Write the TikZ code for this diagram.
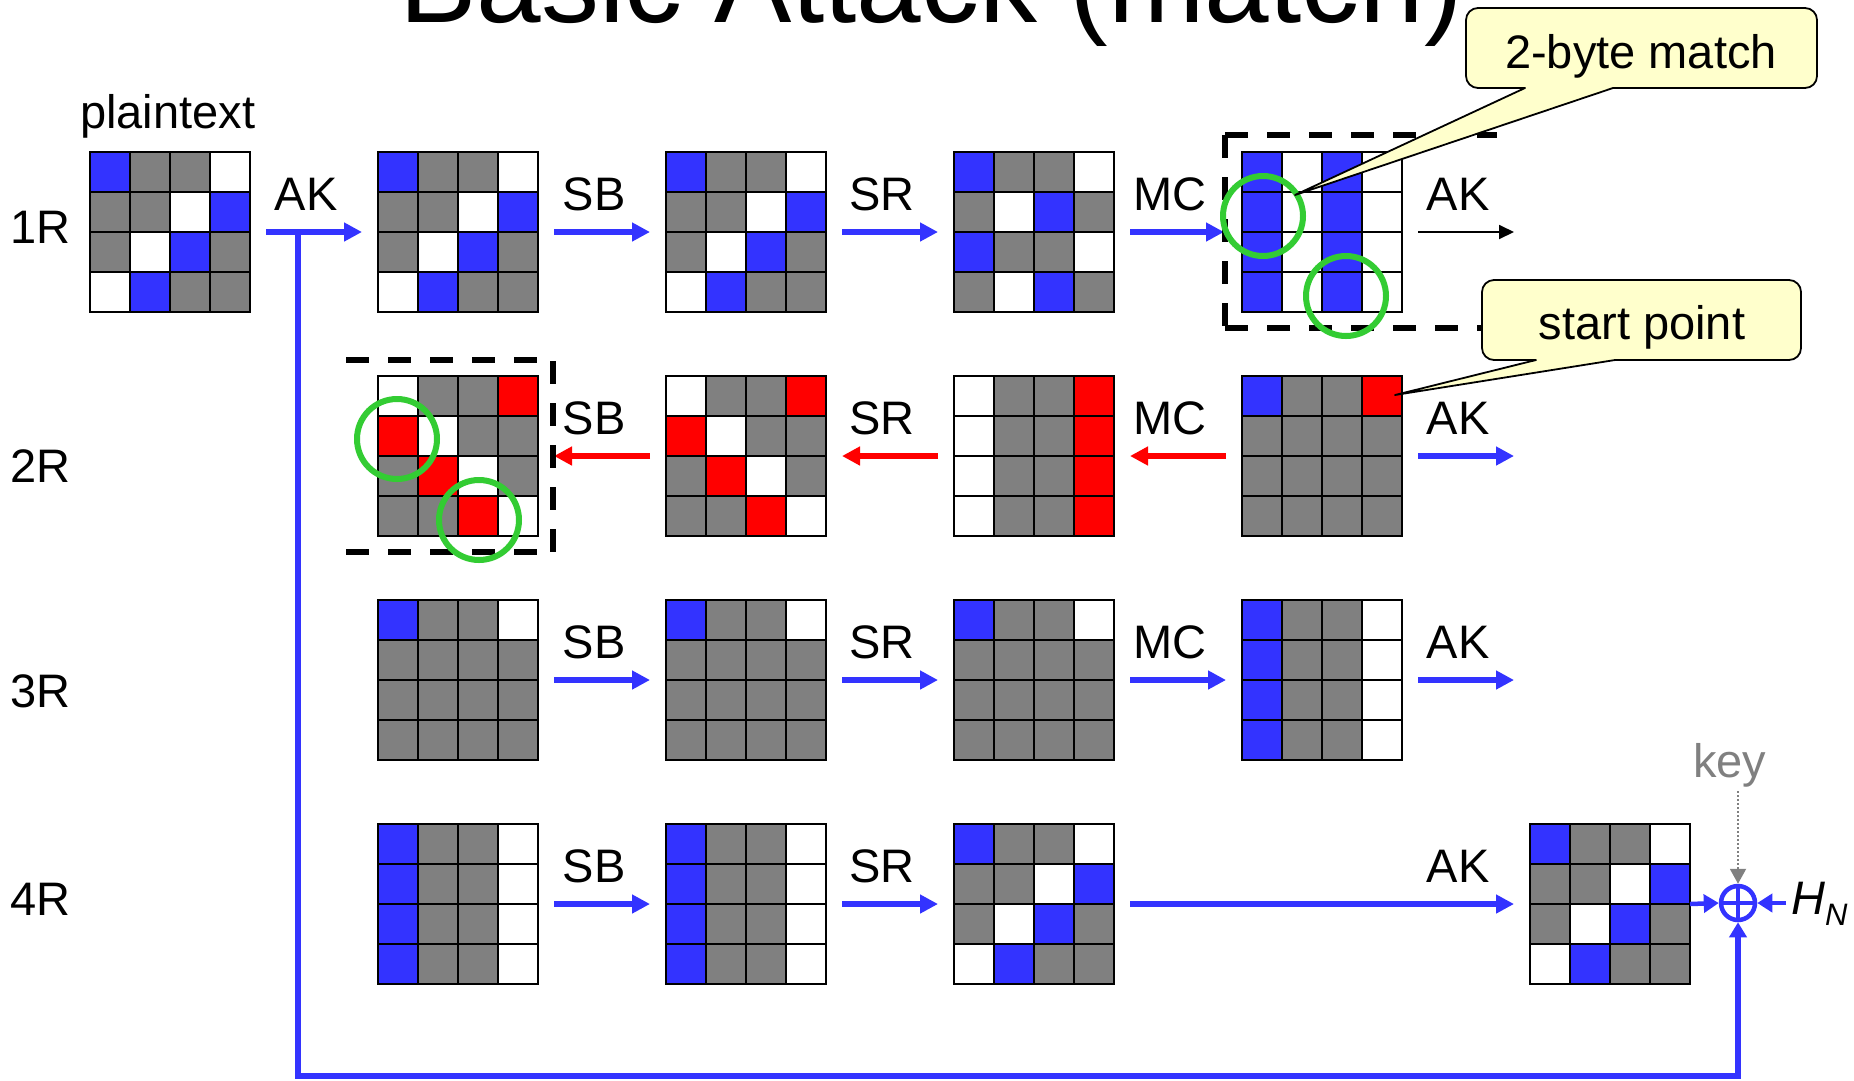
\documentclass[tikz,border=0pt]{standalone}
\usepackage{fontspec}
\setmainfont{Liberation Sans}
\usetikzlibrary{arrows.meta}
\definecolor{B}{HTML}{3333FF}
\definecolor{G}{HTML}{808080}
\definecolor{W}{HTML}{FFFFFF}
\definecolor{R}{HTML}{FF0000}
\definecolor{ringgreen}{HTML}{33CC33}
\definecolor{noteyellow}{HTML}{FFFFCC}
\tikzset{
  gridbox/.style={inner sep=0pt,outer sep=0pt,minimum size=160pt},
  lab/.style={inner sep=0pt,anchor=base,font=\fontsize{47}{56}\selectfont},
  rowlab/.style={inner sep=0pt,anchor=base west,font=\fontsize{47}{56}\selectfont},
  barrow/.style={draw=B,line width=6pt,-{Triangle[length=18pt,width=18pt]}},
  rarrow/.style={draw=R,line width=6pt,-{Triangle[length=18pt,width=18pt]}},
  karrow/.style={draw=black,line width=1.8pt,-{Triangle[length=15pt,width=14pt]}},
  xarrow/.style={draw=B,line width=4.5pt,-{Triangle[length=15pt,width=18pt]}},
  fbline/.style={draw=B,line width=5.5pt,-{Triangle[length=15pt,width=17pt]}},
  keyarrow/.style={draw=G,line width=2pt,dash pattern=on 2pt off 2pt,-{Triangle[length=15pt,width=16pt]}},
  boxdash/.style={line width=5.5pt,dash pattern=on 23pt off 19pt},
  ring/.style={circle,draw=ringgreen,line width=6pt,minimum size=80pt,inner sep=0pt},
  note/.style={draw=black,fill=noteyellow,line width=1.8pt,line join=round},
}
\def\pP{B,G,G,W,G,G,W,B,G,W,B,G,W,B,G,G}
\def\pS{B,G,G,W,G,W,B,G,B,G,G,W,G,W,B,G}
\def\pM{B,W,B,W,B,W,B,W,B,W,B,W,B,W,B,W}
\def\pD{W,G,G,R,R,W,G,G,G,R,W,G,G,G,R,W}
\def\pC{W,G,G,R,W,G,G,R,W,G,G,R,W,G,G,R}
\def\pT{B,G,G,R,G,G,G,G,G,G,G,G,G,G,G,G}
\def\pO{B,G,G,W,G,G,G,G,G,G,G,G,G,G,G,G}
\def\pL{B,G,G,W,B,G,G,W,B,G,G,W,B,G,G,W}
\newcommand\aesgrid[5][2.8pt]{%
  \node[gridbox] (#2) at (#3+80,#4+80) {};
  \foreach \cc [count=\ii from 0] in #5 {%
    \pgfmathtruncatemacro\rr{div(\ii,4)}%
    \pgfmathtruncatemacro\kk{mod(\ii,4)}%
    \fill[fill=\cc] (#3+\kk*40,#4+\rr*40) rectangle ++(40,40);
  }%
  \foreach \tt in {40,80,120} {%
    \draw[line width=#1] (#3+\tt,#4) -- ++(0,160);
    \draw[line width=#1] (#3,#4+\tt) -- ++(160,0);
  }%
  \draw[line width=#1] (#3,#4) rectangle ++(160,160);
}
\begin{document}
\begin{tikzpicture}[x=1pt,y=-1pt]
\useasboundingbox (0,0) rectangle (1854,1080);
\fill[white] (0,0) rectangle (1854,1080);

% title
\node[inner sep=0pt,anchor=base west,font=\fontsize{116}{130}\selectfont] (title) at (399,22) {Basic Attack (match)};

% grids
\aesgrid{r1c0}{90}{152}{\pP}
\aesgrid{r1c1}{378}{152}{\pP}
\aesgrid{r1c2}{666}{152}{\pP}
\aesgrid{r1c3}{954}{152}{\pS}
\aesgrid[1.7pt]{r1c4}{1242}{152}{\pM}
\aesgrid{r2c1}{378}{376}{\pD}
\aesgrid{r2c2}{666}{376}{\pD}
\aesgrid{r2c3}{954}{376}{\pC}
\aesgrid{r2c4}{1242}{376}{\pT}
\aesgrid{r3c1}{378}{600}{\pO}
\aesgrid{r3c2}{666}{600}{\pO}
\aesgrid{r3c3}{954}{600}{\pO}
\aesgrid{r3c4}{1242}{600}{\pL}
\aesgrid{r4c1}{378}{824}{\pL}
\aesgrid{r4c2}{666}{824}{\pL}
\aesgrid{r4c3}{954}{824}{\pP}
\aesgrid{r4c5}{1530}{824}{\pP}

% free arrow ends
\coordinate (o1) at (1514,232);
\coordinate (o2) at (1514,456);
\coordinate (o3) at (1514,680);
\coordinate (fbs) at (298,232);
\coordinate (fbb) at (298,1076);
\coordinate (hnin) at (1786,903);
\coordinate (keyout) at (1738,791);

% xor
\node[circle,draw=B,line width=4.5pt,minimum size=34pt,inner sep=0pt] (xor) at (1738,903) {};
\draw[B,line width=4pt] ([yshift=17pt]xor.center) -- ([yshift=-17pt]xor.center);
\draw[B,line width=4pt] ([xshift=-17pt]xor.center) -- ([xshift=17pt]xor.center);

% feedback line
\draw[fbline] (fbs) -- (fbb) -| (xor.south);

% row 1 arrows
\draw[barrow] ([xshift=16pt]r1c0.east) -- ([xshift=-16pt]r1c1.west);
\draw[barrow] ([xshift=16pt]r1c1.east) -- ([xshift=-16pt]r1c2.west);
\draw[barrow] ([xshift=16pt]r1c2.east) -- ([xshift=-16pt]r1c3.west);
\draw[barrow] ([xshift=16pt]r1c3.east) -- ([xshift=-18pt]r1c4.west);
\draw[karrow] ([xshift=16pt]r1c4.east) -- (o1);
% row 2 arrows
\draw[barrow] ([xshift=16pt]r2c4.east) -- (o2);
\draw[rarrow] ([xshift=-16pt]r2c4.west) -- ([xshift=16pt]r2c3.east);
\draw[rarrow] ([xshift=-16pt]r2c3.west) -- ([xshift=16pt]r2c2.east);
\draw[rarrow] ([xshift=-16pt]r2c2.west) -- ([xshift=16pt]r2c1.east);
% row 3 arrows
\draw[barrow] ([xshift=16pt]r3c1.east) -- ([xshift=-16pt]r3c2.west);
\draw[barrow] ([xshift=16pt]r3c2.east) -- ([xshift=-16pt]r3c3.west);
\draw[barrow] ([xshift=16pt]r3c3.east) -- ([xshift=-16pt]r3c4.west);
\draw[barrow] ([xshift=16pt]r3c4.east) -- (o3);
% row 4 arrows
\draw[barrow] ([xshift=16pt]r4c1.east) -- ([xshift=-16pt]r4c2.west);
\draw[barrow] ([xshift=16pt]r4c2.east) -- ([xshift=-16pt]r4c3.west);
\draw[barrow] ([xshift=16pt]r4c3.east) -- ([xshift=-16pt]r4c5.west);
\draw[xarrow] (r4c5.east) -- (xor.west);
\draw[xarrow] (hnin) -- (xor.east);
\draw[keyarrow] (keyout) -- (xor.north);

% dashed boxes
\draw[boxdash] (1225,135) -- (1497,135);
\draw[boxdash] (1225,135) -- (1225,328);
\draw[boxdash] (1225,328) -- (1497,328);
\draw[boxdash] (346,360) -- (553,360);
\draw[boxdash] (553,361) -- (553,552);
\draw[boxdash] (346,552) -- (553,552);

% green rings
\node[ring] (g1) at (1263,216) {};
\node[ring] (g2) at (1346,296) {};
\node[ring] (g3) at (397,439) {};
\node[ring] (g4) at (479,520) {};

% labels
\node[rowlab] (pt) at (80,128) {plaintext};
\node[rowlab] (l1) at (10,243) {1R};
\node[rowlab] (l2) at (10,482) {2R};
\node[rowlab] (l3) at (10,707) {3R};
\node[rowlab] (l4) at (10,915) {4R};

\node[lab] (a11) at (306,210) {AK};
\node[lab] (a12) at (594,210) {SB};
\node[lab] (a13) at (882,210) {SR};
\node[lab] (a14) at (1170,210) {MC};
\node[lab] (a15) at (1458,210) {AK};

\node[lab] (a22) at (594,434) {SB};
\node[lab] (a23) at (882,434) {SR};
\node[lab] (a24) at (1170,434) {MC};
\node[lab] (a25) at (1458,434) {AK};

\node[lab] (a32) at (594,658) {SB};
\node[lab] (a33) at (882,658) {SR};
\node[lab] (a34) at (1170,658) {MC};
\node[lab] (a35) at (1458,658) {AK};

\node[lab] (a42) at (594,882) {SB};
\node[lab] (a43) at (882,882) {SR};
\node[lab] (a45) at (1458,882) {AK};

\node[rowlab,text=G] (key) at (1693,777) {key};
\node[rowlab] (hn) at (1791,914) {\itshape H\raisebox{-11pt}{\fontsize{31}{31}\selectfont N}};

% callouts
\draw[note] (1525,88) -- (1295,195) -- (1613,88) [rounded corners=12pt] -- (1817,88) -- (1817,8) -- (1466,8) -- (1466,88) [sharp corners] -- cycle;
\node[lab] (n1) at (1641,68) {2-byte match};
\draw[note] (1536,360) -- (1395,395) -- (1615,360) [rounded corners=12pt] -- (1801,360) -- (1801,280) -- (1482,280) -- (1482,360) [sharp corners] -- cycle;
\node[lab] (n2) at (1642,339) {start point};
\end{tikzpicture}
\end{document}
